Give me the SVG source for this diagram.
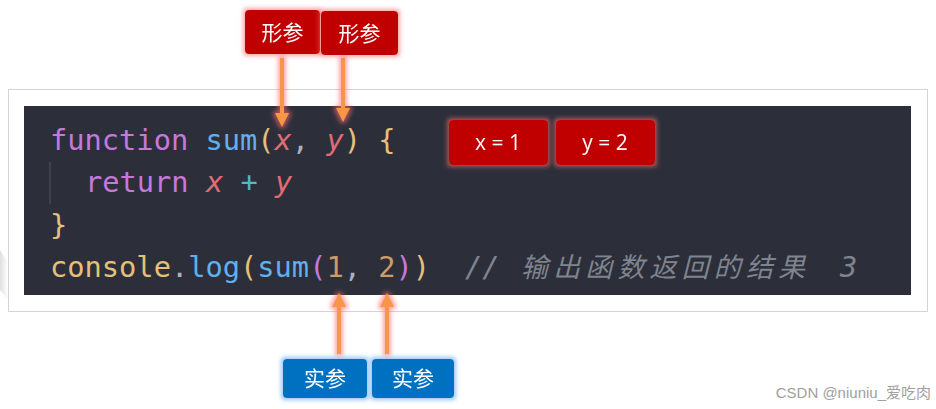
<svg xmlns="http://www.w3.org/2000/svg" width="936" height="409" viewBox="0 0 936 409">
<defs>
<style>
.code{font-family:"DejaVu Sans Mono","Liberation Mono",monospace;font-size:28.7px;white-space:pre}
.lbl{font-family:"Noto Sans CJK SC","Noto Sans",sans-serif;font-size:21px;fill:#fff;text-anchor:middle}
.val{font-family:"Open Sans","Noto Sans",sans-serif;font-size:21px;fill:#fff;text-anchor:middle}
.kw{fill:#c678dd}.fn{fill:#61afef}.gd{fill:#e5c07b}.or{fill:#d19a66}.pa{fill:#e06c75;font-style:italic}
.pl{fill:#abb2bf}.op{fill:#56b6c2}.pu{fill:#c678dd}.cm{fill:#7f848e;font-style:italic}
.red{fill:#c00000}
.blue{fill:#0070c0}
.arr{stroke:#f79646;stroke-width:4;fill:none}
.ah{fill:#f79646}
</style>
<filter id="gr" x="-30%" y="-30%" width="160%" height="160%">
<feMorphology in="SourceAlpha" operator="dilate" radius="1.5" result="d"/>
<feGaussianBlur in="d" stdDeviation="2" result="b"/>
<feFlood flood-color="#ff6a6a" flood-opacity="0.6"/>
<feComposite operator="in" in2="b" result="g"/>
<feMerge><feMergeNode in="g"/><feMergeNode in="SourceGraphic"/></feMerge>
</filter>
<filter id="gb" x="-30%" y="-30%" width="160%" height="160%">
<feMorphology in="SourceAlpha" operator="dilate" radius="1.5" result="d"/>
<feGaussianBlur in="d" stdDeviation="2" result="b"/>
<feFlood flood-color="#7fb8f0" flood-opacity="0.8"/>
<feComposite operator="in" in2="b" result="g"/>
<feMerge><feMergeNode in="g"/><feMergeNode in="SourceGraphic"/></feMerge>
</filter>
<linearGradient id="sh" x1="0" y1="0" x2="1" y2="0">
<stop offset="0" stop-color="#d8d8d8" stop-opacity="0.8"/>
<stop offset="1" stop-color="#d8d8d8" stop-opacity="0"/>
</linearGradient>
</defs>
<rect width="936" height="409" fill="#fff"/>
<polygon points="0,250 8,262 8,300 0,290" fill="url(#sh)"/>
<g id="panel">
<rect x="8.5" y="89.5" width="919" height="222" fill="#fff" stroke="#d4d4d4" stroke-width="1"/>
<rect x="24" y="106" width="887" height="189" fill="#2c2f3a"/>
<line x1="50" y1="162" x2="50" y2="204" stroke="#454a55" stroke-width="1.5"/>
</g>
<g id="code" class="code">
<text x="50" y="150"><tspan class="kw">function</tspan> <tspan class="fn">sum</tspan><tspan class="gd">(</tspan><tspan class="pa">x</tspan><tspan class="pl">, </tspan><tspan class="pa">y</tspan><tspan class="gd">)</tspan> <tspan class="gd">{</tspan></text>
<text x="85" y="192"><tspan class="kw">return</tspan> <tspan class="pa">x</tspan> <tspan class="op">+</tspan> <tspan class="pa">y</tspan></text>
<text x="50" y="235" class="gd">}</text>
<text x="50" y="277"><tspan class="gd">console</tspan><tspan class="pl">.</tspan><tspan class="fn">log</tspan><tspan class="gd">(</tspan><tspan class="fn">sum</tspan><tspan class="pu">(</tspan><tspan class="or">1</tspan><tspan class="pl">, </tspan><tspan class="or">2</tspan><tspan class="pu">)</tspan><tspan class="gd">)</tspan></text>
<text x="465" y="277" class="cm">//</text>
<text x="521" y="277" class="cm" style="font-family:'Noto Sans CJK SC',sans-serif;font-size:27px" textLength="284" lengthAdjust="spacing">输出函数返回的结果</text>
<text x="840" y="277" class="cm">3</text>
</g>
<g id="connectors">
<g filter="url(#gr)">
<line class="arr" x1="282" y1="58" x2="282" y2="114"/>
<polygon class="ah" points="275,113 289,113 282,127"/>
<line class="arr" x1="343" y1="58" x2="343" y2="109"/>
<polygon class="ah" points="336,108 350,108 343,122"/>
<line class="arr" x1="339" y1="354" x2="339" y2="306"/>
<polygon class="ah" points="332,307 346,307 339,293"/>
<line class="arr" x1="387" y1="354" x2="387" y2="306"/>
<polygon class="ah" points="380,307 394,307 387,293"/>
</g>
</g>
<g id="param1" filter="url(#gr)">
<rect class="red" x="245" y="10" width="75" height="44" rx="4"/>
<text class="lbl" x="282.5" y="40">形参</text>
</g>
<g id="param2" filter="url(#gr)">
<rect class="red" x="321" y="11" width="77" height="44" rx="4"/>
<text class="lbl" x="359.5" y="41">形参</text>
</g>
<g id="xval" filter="url(#gr)">
<rect class="red" x="449" y="120" width="99" height="45" rx="4"/>
<text class="val" x="498" y="150">x = 1</text>
</g>
<g id="yval" filter="url(#gr)">
<rect class="red" x="556" y="120" width="99" height="45" rx="4"/>
<text class="val" x="605" y="150">y = 2</text>
</g>
<g id="arg1" filter="url(#gb)">
<rect class="blue" x="283" y="359" width="84" height="39" rx="4"/>
<text class="lbl" x="325" y="386">实参</text>
</g>
<g id="arg2" filter="url(#gb)">
<rect class="blue" x="372" y="359" width="82" height="39" rx="4"/>
<text class="lbl" x="413" y="386">实参</text>
</g>
<text x="931" y="398" text-anchor="end" style="font-family:'Liberation Sans','Noto Sans CJK SC',sans-serif;font-size:15px" fill="#a0a0a0">CSDN @niuniu_爱吃肉</text>
</svg>
